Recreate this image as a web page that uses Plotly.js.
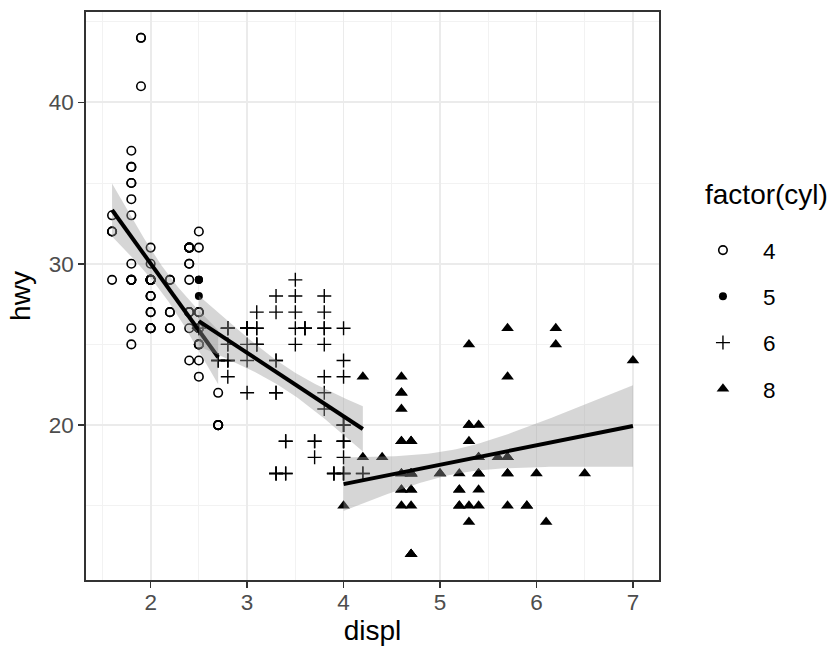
<!DOCTYPE html>
<html>
<head>
<meta charset="utf-8">
<script src="https://cdn.plot.ly/plotly-3.0.1.min.js"></script>
<style>body{margin:0;padding:0;background:#fff;} #chart{width:832px;height:652px;}</style>
</head>
<body>
<div id="chart"></div>
<script>
// ---- data (displ, hwy) by cylinder group ----
const displ4 = [1.8,1.8,2.0,2.0,1.8,1.8,2.0,2.0,2.4,2.4,2.4,1.6,1.6,1.6,1.6,1.6,1.8,1.8,1.8,2.0,2.4,2.4,2.4,2.4,2.0,2.0,2.0,2.0,2.4,2.4,2.5,2.5,2.5,2.5,2.5,2.5,2.5,2.5,2.2,2.2,2.5,2.5,2.5,2.5,2.5,2.5,2.7,2.7,2.2,2.2,2.4,2.4,2.2,2.2,2.4,2.4,1.8,1.8,1.8,1.8,1.8,2.7,2.7,2.7,2.0,2.0,2.0,2.0,1.9,2.0,2.0,2.0,2.0,1.9,1.9,2.0,2.0,1.8,1.8,2.0,2.0];
const hwy4   = [29,29,31,30,26,25,28,27,27,30,24,33,32,32,29,32,34,36,36,29,26,27,30,31,26,29,28,27,29,27,31,32,25,24,27,25,26,23,26,26,26,26,25,27,25,27,20,20,29,27,31,31,27,29,31,31,30,33,35,37,35,20,20,22,29,26,29,29,44,29,26,29,29,44,41,29,26,29,29,28,29];
const displ5 = [2.5,2.5,2.5,2.5];
const hwy5   = [29,29,28,29];
const displ6 = [2.8,2.8,3.1,2.8,2.8,3.1,3.1,2.8,3.1,3.1,3.5,3.6,3.0,3.3,3.3,3.3,3.3,3.3,3.8,3.8,3.8,4.0,3.7,3.7,3.9,3.9,3.9,4.0,4.0,4.0,4.0,4.2,4.2,3.8,3.8,4.0,4.0,2.5,2.5,3.3,2.7,2.7,2.7,3.0,3.7,4.0,4.0,4.0,3.5,3.5,3.0,3.0,3.5,3.3,3.3,4.0,3.1,3.8,3.8,3.8,3.4,3.4,4.0,3.0,3.0,3.5,3.0,3.0,3.3,3.4,3.4,4.0,4.0,2.8,2.8,2.8,2.8,2.8,3.6,3.6];
const hwy6   = [26,26,27,25,25,25,25,24,25,26,29,26,24,22,22,24,24,17,22,21,23,23,19,18,17,17,17,17,19,17,19,17,17,26,25,26,24,26,26,28,24,24,24,22,19,20,17,19,27,26,26,25,25,17,17,20,26,26,27,28,19,17,20,26,26,28,26,26,27,17,19,18,20,24,23,24,26,26,26,26];
const displ8 = [4.2,5.3,5.3,5.3,5.7,6.0,5.7,5.7,6.2,6.2,7.0,5.3,5.3,5.7,6.5,4.7,4.7,4.7,5.2,5.2,4.7,4.7,4.7,5.2,5.7,5.9,4.7,4.7,4.7,4.7,4.7,5.2,5.2,5.7,5.9,4.6,5.4,5.4,4.6,5.0,4.6,4.6,4.6,5.4,5.4,4.6,4.6,4.6,4.6,5.4,4.7,4.7,4.7,5.7,6.1,4.0,4.2,4.4,4.6,5.4,5.4,5.4,4.6,5.0,5.6,5.3,4.7,4.7,5.7];
const hwy8   = [23,20,15,20,17,17,26,23,26,25,24,19,14,15,17,19,19,12,15,17,17,12,17,16,18,15,16,12,17,17,16,15,16,17,15,17,17,18,19,17,16,16,17,15,17,21,22,23,22,20,17,12,19,18,14,15,18,18,15,17,16,18,19,17,18,25,17,15,18];
const groupNames = ["4","5","6","8"];
const legendTitle = "factor(cyl)";
const xTicks = [2,3,4,5,6,7];
const yTicks = [20,30,40];

const FONT = "Liberation Sans, Arial, Helvetica, sans-serif";

// ---- linear model with 95% confidence band (like geom_smooth(method = "lm")) ----
function tQuant(df){
  const z = 1.959963985;
  const z3 = z*z*z, z5 = z3*z*z, z7 = z5*z*z;
  return z + (z3+z)/(4*df) + (5*z5+16*z3+3*z)/(96*df*df) + (3*z7+19*z5+17*z3-15*z)/(384*df*df*df);
}
function lmFit(x, y){
  const n = x.length;
  let mx=0,my=0; for(let i=0;i<n;i++){mx+=x[i];my+=y[i];} mx/=n; my/=n;
  let sxx=0,sxy=0; for(let i=0;i<n;i++){sxx+=(x[i]-mx)*(x[i]-mx); sxy+=(x[i]-mx)*(y[i]-my);}
  const b = sxy/sxx, a = my - b*mx;
  let sse=0; for(let i=0;i<n;i++){const r=y[i]-(a+b*x[i]); sse+=r*r;}
  const s2 = sse/(n-2), t = tQuant(n-2);
  const lo = Math.min(...x), hi = Math.max(...x);
  const xs=[], yh=[], up=[], dn=[];
  for(let i=0;i<80;i++){
    const xv = lo + (hi-lo)*i/79;
    const f = a + b*xv;
    const se = Math.sqrt(s2*(1/n + (xv-mx)*(xv-mx)/sxx));
    xs.push(xv); yh.push(f); up.push(f+t*se); dn.push(f-t*se);
  }
  return {xs, yh, up, dn};
}

const pts = [
  {x:displ4, y:hwy4, name:groupNames[0], marker:{symbol:"circle-open", size:8.5, color:"#000", line:{width:1.6, color:"#000"}}},
  {x:displ5, y:hwy5, name:groupNames[1], marker:{symbol:"circle", size:8, color:"#000"}},
  {x:displ6, y:hwy6, name:groupNames[2], marker:{symbol:"cross-thin-open", size:10, color:"#000", line:{width:1.4, color:"#000"}}},
  {x:displ8, y:hwy8, name:groupNames[3], marker:{symbol:"triangle-up", size:11, color:"#000"}}
];
const traces = pts.map((p,i)=>({
  type:"scatter", mode:"markers", x:p.x, y:p.y, name:p.name, marker:p.marker,
  legendgroup:"g"+i, hoverinfo:"skip"
}));

[[displ4,hwy4],[displ6,hwy6],[displ8,hwy8]].forEach(([x,y])=>{
  const f = lmFit(x,y);
  traces.push({type:"scatter", mode:"lines", x:f.xs.concat(f.xs.slice().reverse()),
    y:f.up.concat(f.dn.slice().reverse()), fill:"toself", fillcolor:"rgba(153,153,153,0.4)",
    line:{width:0}, showlegend:false, hoverinfo:"skip"});
  traces.push({type:"scatter", mode:"lines", x:f.xs, y:f.yh, line:{color:"#000", width:4},
    showlegend:false, hoverinfo:"skip"});
});

const axisCommon = {
  showline:true, mirror:true, linecolor:"#333333", linewidth:1.6,
  ticks:"outside", ticklen:6, tickwidth:1.6, tickcolor:"#333333",
  showgrid:true, gridcolor:"#ebebeb", gridwidth:1.8, zeroline:false,
  tickfont:{family:FONT, size:22.5, color:"#4d4d4d"}
};

const layout = {
  width:832, height:652,
  margin:{l:86, r:173, t:12, b:72},
  paper_bgcolor:"#fff", plot_bgcolor:"#fff",
  font:{family:FONT, color:"#000"},
  xaxis:Object.assign({}, axisCommon, {
    range:[1.33,7.27], tickvals:xTicks, ticktext:xTicks.map(String),
    ticklabelstandoff:-5,
    minor:{tickvals:[1.5,2.5,3.5,4.5,5.5,6.5], showgrid:true, gridcolor:"#f2f2f2", gridwidth:1, ticklen:0},
    title:{text:"displ", font:{family:FONT, size:28, color:"#000"}, standoff:6}
  }),
  yaxis:Object.assign({}, axisCommon, {
    range:[10.4,45.6], tickvals:yTicks, ticktext:yTicks.map(String),
    minor:{tickvals:[15,25,35,45], showgrid:true, gridcolor:"#f2f2f2", gridwidth:1, ticklen:0},
    title:{text:"hwy", font:{family:FONT, size:28, color:"#000"}, standoff:10}
  }),
  showlegend:true,
  legend:{
    x:1.0418, xanchor:"left", y:0.618, yanchor:"top",
    font:{family:FONT, size:22.5, color:"#000"},
    traceorder:"grouped", tracegroupgap:14, itemwidth:70,
    bgcolor:"rgba(0,0,0,0)"
  },
  annotations:[{
    text:legendTitle, xref:"paper", yref:"paper", x:1.0767, y:0.678,
    xanchor:"left", yanchor:"middle", showarrow:false,
    font:{family:FONT, size:28, color:"#000"}
  }]
};

Plotly.newPlot("chart", traces, layout, {displayModeBar:false, staticPlot:true});
</script>
</body>
</html>
